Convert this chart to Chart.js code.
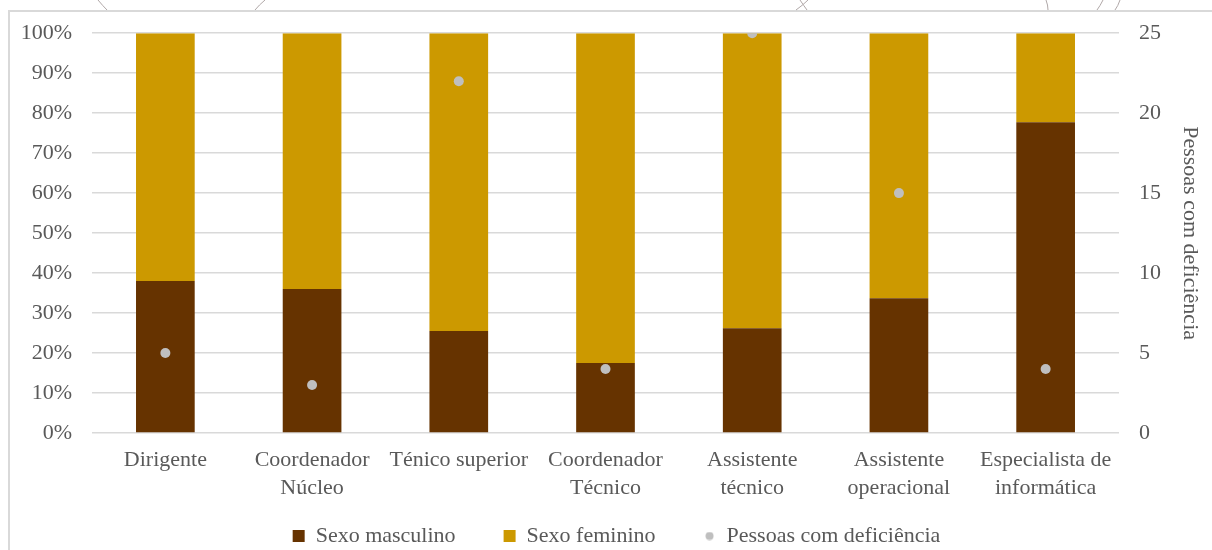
<!DOCTYPE html>
<html>
<head>
<meta charset="utf-8">
<script src="https://cdn.jsdelivr.net/npm/chart.js@4/dist/chart.umd.min.js"></script>
<style>
  html, body { margin: 0; padding: 0; background: #fff; }
  #wrap { position: relative; width: 1212px; height: 550px; overflow: hidden; }
  #frame { position: absolute; left: 8px; top: 10px; width: 1400px; height: 700px;
           border-left: 2px solid #d9d9d9; border-top: 2px solid #d9d9d9; }
  #deco { position: absolute; left: 0; top: 0; }
  canvas { position: absolute; left: 0; top: 0; }
</style>
</head>
<body>
<div id="wrap">
  <div id="frame"></div>
  <svg id="deco" width="1212" height="12">
    <g stroke="#b0a8a8" stroke-width="1" fill="none">
      <path d="M98 0 Q103 6 107 10"/>
      <path d="M265 0 Q259 5 255 10"/>
      <path d="M800 0 Q804 6 807 10"/>
      <path d="M808 0 Q803 5 796 10"/>
      <path d="M1046 0 Q1048 5 1048 10"/>
      <path d="M1103 0 Q1100 6 1097 10"/>
      <path d="M1120 0 Q1118 6 1115 10"/>
    </g>
  </svg>
  <canvas id="chart" width="1212" height="550"></canvas>
</div>
<script>
// Categories and values
const categories = [
    'Dirigente',
    ['Coordenador', 'Núcleo'],
    'Ténico superior',
    ['Coordenador', 'Técnico'],
    ['Assistente', 'técnico'],
    ['Assistente', 'operacional'],
    ['Especialista de', 'informática']
];
const masculino = [0.38, 0.36, 0.255, 0.175, 0.262, 0.337, 0.777];
const feminino = masculino.map(v => 1 - v);
const deficiencia = [5, 3, 22, 4, 25, 15, 4];

const textColor = '#595959';
const gridColor = '#d9d9d9';
const pointColor = '#bfbfbf';

Chart.defaults.font.family = "'Liberation Serif', 'Times New Roman', serif";
Chart.defaults.font.size = 22;
Chart.defaults.color = textColor;

// small dot used as the legend marker for the points series
const dot = document.createElement('canvas');
dot.width = 9;
dot.height = 9;
const dctx = dot.getContext('2d');
dctx.fillStyle = pointColor;
dctx.beginPath();
dctx.arc(4.5, 4.5, 4, 0, Math.PI * 2);
dctx.fill();

// legend: wide gaps between items but kept short in the layout
const legendFix = {
    id: 'legendFix',
    beforeLayout(chart) {
        const lg = chart.legend;
        if (lg && !lg._patched) {
            const fit = lg.fit.bind(lg);
            lg.fit = function() { fit(); this.height = 47; };
            lg._patched = true;
        }
    },
    afterLayout(chart) {
        const lg = chart.legend;
        lg.top = chart.chartArea.bottom + 44;
        lg.height = 90;
        lg.bottom = lg.top + 90;
        lg.left += 15;
        lg.right += 15;
    }
};

const ctx = document.getElementById('chart').getContext('2d');
new Chart(ctx, {
    type: 'bar',
    data: {
        labels: categories,
        datasets: [
            {
                label: 'Sexo masculino',
                data: masculino,
                backgroundColor: '#663300',
                stack: 's',
                order: 1,
                barPercentage: 0.4,
                categoryPercentage: 1
            },
            {
                label: 'Sexo feminino',
                data: feminino,
                backgroundColor: '#cc9900',
                stack: 's',
                order: 1,
                barPercentage: 0.4,
                categoryPercentage: 1
            },
            {
                type: 'line',
                label: 'Pessoas com deficiência',
                data: deficiencia,
                yAxisID: 'y1',
                showLine: false,
                pointRadius: 5,
                pointBackgroundColor: pointColor,
                pointBorderWidth: 0,
                backgroundColor: pointColor,
                borderColor: pointColor,
                order: 0
            }
        ]
    },
    plugins: [legendFix],
    options: {
        responsive: false,
        animation: false,
        layout: { padding: { top: 33, left: 0, right: 9, bottom: 0 } },
        plugins: {
            tooltip: { enabled: false },
            legend: {
                position: 'bottom',
                labels: {
                    usePointStyle: true,
                    boxHeight: 12,
                    boxWidth: 12,
                    padding: 48,
                    generateLabels: chart => {
                        const items = Chart.defaults.plugins.legend.labels.generateLabels(chart);
                        items.sort((a, b) => a.datasetIndex - b.datasetIndex);
                        items.forEach(it => {
                            it.pointStyle = it.datasetIndex === 2 ? dot : 'rect';
                            it.lineWidth = 0;
                        });
                        return items;
                    }
                }
            }
        },
        scales: {
            x: {
                stacked: true,
                grid: { display: false, drawTicks: false },
                border: { display: false },
                ticks: { padding: 14, maxRotation: 0, autoSkip: false, font: { lineHeight: 1.24 } },
                afterFit: s => { s.height = 70; }
            },
            y: {
                stacked: true,
                min: 0,
                max: 1,
                grid: { color: gridColor, lineWidth: 1.5, drawTicks: false },
                border: { display: false },
                ticks: {
                    stepSize: 0.1,
                    padding: 20,
                    callback: v => Math.round(v * 100) + '%'
                },
                afterFit: s => { s.width = 92; }
            },
            y1: {
                position: 'right',
                min: 0,
                max: 25,
                grid: { display: false, drawTicks: false },
                border: { display: false },
                ticks: { stepSize: 5, padding: 20 },
                title: { display: true, text: 'Pessoas com deficiência', padding: 0 },
                afterFit: s => { s.width = 84; }
            }
        }
    }
});
</script>
</body>
</html>
